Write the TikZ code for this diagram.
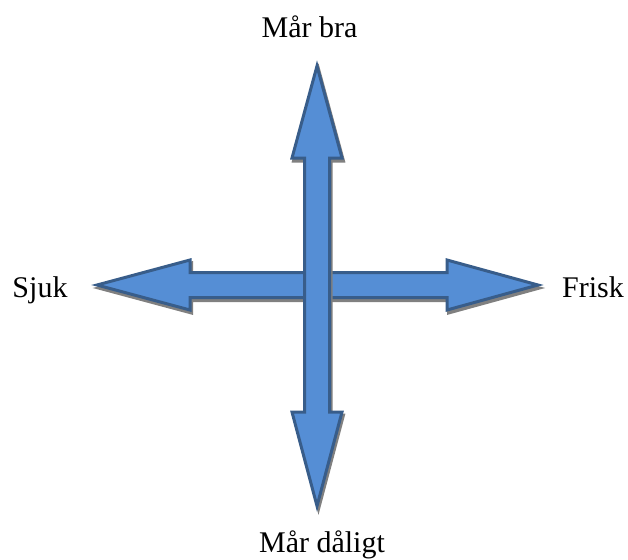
\documentclass[tikz,border=0pt]{standalone}
\usepackage{fontspec}
\setmainfont{Liberation Serif}
\definecolor{arrowfill}{RGB}{85,142,213}
\definecolor{arrowline}{RGB}{56,93,138}
\definecolor{shadowgray}{RGB}{128,128,128}
\begin{document}
\begin{tikzpicture}[x=1pt,y=-1pt,
  arrowbody/.style={fill=arrowfill,draw=arrowline,line width=3pt,line join=miter},
  arrowshadow/.style={fill=shadowgray,draw=shadowgray,line width=3pt,shift={(1.5,3)}},
  lbl/.style={anchor=base,inner sep=0pt,font=\fontsize{30}{36}\selectfont}]
\useasboundingbox (0,0) rectangle (628,559);
% horizontal double arrow
\foreach \st in {arrowshadow,arrowbody}{
  \path[\st] (97,285) -- (190,260) -- (190,272.5) -- (447,272.5) -- (447,260) -- (538,285)
    -- (447,310) -- (447,297.5) -- (190,297.5) -- (190,310) -- cycle;
}
% vertical double arrow
\foreach \st in {arrowshadow,arrowbody}{
  \path[\st] (317,66) -- (342,158) -- (329.5,158) -- (329.5,412) -- (342,412) -- (317,506)
    -- (292,412) -- (304.5,412) -- (304.5,158) -- (292,158) -- cycle;
}
\node[lbl] (top) at (309.5,38) {Mår bra};
\node[lbl] (left) at (40,297) {Sjuk};
\node[lbl] (right) at (593,297) {Frisk};
\node[lbl] (bottom) at (322,552) {Mår dåligt};
\end{tikzpicture}
\end{document}
